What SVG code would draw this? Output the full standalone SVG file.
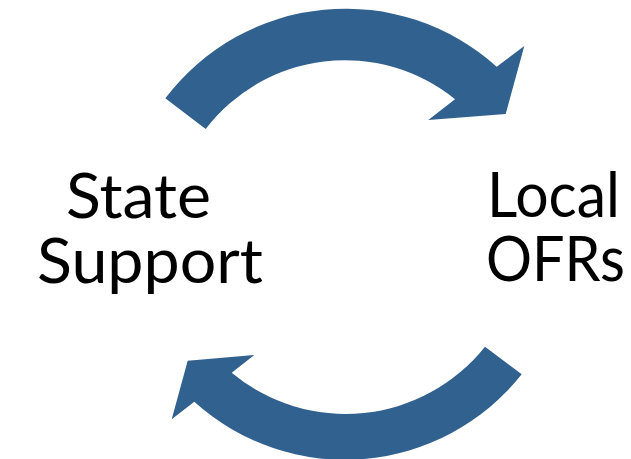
<svg xmlns="http://www.w3.org/2000/svg" width="631" height="459" viewBox="0 0 631 459">
<style>
.arrow{fill:#31618f;stroke:none}
.lbl{font-family:Lato,"Open Sans","Liberation Sans",sans-serif;font-size:62px;fill:#000}
</style>
<rect width="631" height="459" fill="#fff"/>
<g id="connectors">
<path id="arrow-top" class="arrow" d="M165.3,98.3 A226,226 0 0 1 496.7,66.7 L524.3,46 L505.7,114 L428.3,120 L455,99.3 A175,175 0 0 0 205.7,129 Z"/>
<path id="arrow-bottom" class="arrow" d="M521.7,374.3 A225,225 0 0 1 194.3,401.7 L171.7,419.3 L187.7,360.7 L254.3,355 L231.7,372.7 A178,178 0 0 0 485,346.7 Z"/>
</g>
<g id="node-state-support">
<text class="lbl" x="66" y="217.7" textLength="145" lengthAdjust="spacingAndGlyphs">State</text>
<text class="lbl" x="37" y="283" textLength="226" lengthAdjust="spacingAndGlyphs">Support</text>
</g>
<g id="node-local-ofrs">
<text class="lbl" x="487" y="216.7" textLength="133" lengthAdjust="spacingAndGlyphs">Local</text>
<text class="lbl" x="486" y="281" textLength="139" lengthAdjust="spacingAndGlyphs">OFRs</text>
</g>
</svg>
